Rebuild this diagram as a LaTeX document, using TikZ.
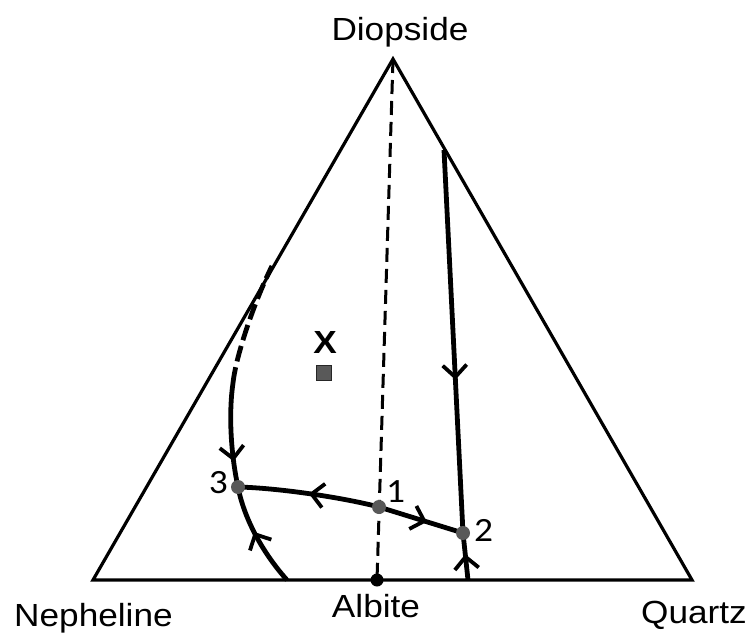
\documentclass[tikz,border=0pt]{standalone}
\usepackage{fontspec}
\setmainfont{Liberation Sans}[FakeStretch=1.1]
\newfontfamily\numfont{Carlito}[FakeStretch=1.1]
\usetikzlibrary{arrows.meta,decorations.markings}
\tikzset{
  tri/.style={line width=3.2pt, line join=miter},
  flow/.style={line width=4.8pt},
  midarrow/.style={postaction={decorate}, decoration={markings,
      mark=at position #1 with {\arrow{Straight Barb[length=12pt,width=24pt,line width=3.8pt]}}}},
  ptdot/.style={circle, fill=black!65, inner sep=0pt, minimum size=14pt},
  lbl/.style={inner sep=0pt, font=\fontsize{32}{38}\selectfont},
  num/.style={inner sep=0pt, font=\numfont\fontsize{34}{38}\selectfont},
}
\begin{document}
\begin{tikzpicture}[x=1pt,y=-1pt]
\useasboundingbox (0,0) rectangle (750,634);
% vertices and points
\coordinate (A) at (393,59);
\coordinate (N) at (93,580);
\coordinate (Q) at (692,580);
\coordinate (Alb) at (377,580);
\coordinate (c1) at (379,507);
\coordinate (c2) at (463,533);
\coordinate (c3) at (238,487);
\coordinate (T) at (444,150);
\coordinate (RB) at (468,580);
\coordinate (LB) at (287,580);
\coordinate (S) at (233,383);
\coordinate (D) at (272,266);
% dashed join
\draw[line width=3pt, dash pattern=on 14pt off 7pt] (A) -- (Alb);
% triangle
\draw[tri] (A) -- (N) -- (Q) -- cycle;
% boundary curves
\draw[flow, midarrow=0.6] (T) -- (c2);
\draw[flow, midarrow=0.55] (RB) -- (c2);
\draw[flow, midarrow=0.57] (c1) -- (c2);
\draw[flow, midarrow=0.5] (c1) .. controls (345,498) and (280,488) .. (c3);
\draw[flow, midarrow=0.55] (LB) .. controls (262,552) and (244,518) .. (c3);
\draw[flow, midarrow=0.75] (S) .. controls (229,410) and (230,450) .. (c3);
\draw[flow, dash pattern=on 16pt off 6pt] (S) .. controls (236,355) and (255,300) .. (D);
% points
\node[ptdot] (p1) at (c1) {};
\node[ptdot] (p2) at (c2) {};
\node[ptdot] (p3) at (c3) {};
\node[circle, fill=black, inner sep=0pt, minimum size=13pt] (albdot) at (Alb) {};
% X composition
\node[inner sep=0pt, font=\bfseries\fontsize{32}{36}\selectfont] (xl) at (325,342) {X};
\node[draw=black!85, line width=1pt, fill=black!65, inner sep=0pt, minimum size=15pt] (xsq) at (324,373) {};
% labels
\node[lbl, anchor=base] (diop) at (400,41) {Diopside};
\node[lbl, anchor=base west] (neph) at (14,626) {Nepheline};
\node[lbl, anchor=base] (albl) at (376,617) {Albite};
\node[lbl, anchor=base east] (qtz) at (747,623) {Quartz};
\node[num, anchor=base east] (n3) at (228,493) {3};
\node[num, anchor=base west] (n1) at (386,502) {1};
\node[num, anchor=base west] (n2) at (474,541) {2};
\end{tikzpicture}
\end{document}
